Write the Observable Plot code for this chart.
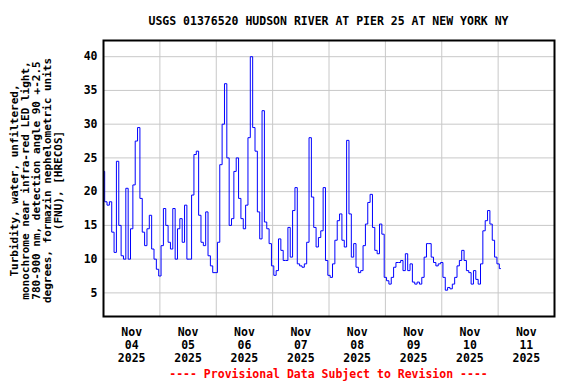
<!DOCTYPE html>
<html>
<head>
<meta charset="utf-8">
<script src="https://cdn.jsdelivr.net/npm/d3@7"></script>
<script src="https://cdn.jsdelivr.net/npm/@observablehq/plot@0.6"></script>
<style>
  body { margin: 0; background: #fff; }
  #wrap { position: relative; width: 576px; height: 384px; font-family: "DejaVu Sans Mono", monospace; font-weight: bold; color: #000; }
  #wrap svg { position: absolute; left: 0; top: 0; }
  .title { position: absolute; left: 103px; width: 451px; top: 14px; text-align: center; font-size: 11.5px; line-height: 14px; white-space: nowrap; }
  .caption { position: absolute; left: 103px; width: 451px; top: 367px; text-align: center; font-size: 11.5px; line-height: 14px; color: #ff0000; white-space: nowrap; }
</style>
</head>
<body>
<div id="wrap">
  <div class="title">USGS 01376520 HUDSON RIVER AT PIER 25 AT NEW YORK NY</div>
  <div class="caption">---- Provisional Data Subject to Revision ----</div>
</div>
<script>
// Hourly turbidity readings (FNU) starting Nov 04 2025 00:00
const startTime = "2025-11-04T00:00:00Z";
const turbidity = [
  23, 18.5, 18, 18.5, 14, 11, 24.5, 15, 10.5, 10, 20.5, 10, 14.5, 21, 27.5, 29.5, 19, 14, 12, 14.5,
  16.5, 11.5, 10, 8.5, 7.5, 12, 17.5, 15, 12.5, 11.5, 17.5, 10, 14.5, 16, 12.5, 18, 10, 10, 19.5, 25.5,
  26, 16.5, 12.5, 12, 17, 10.5, 9, 8, 8, 12.5, 24, 30, 36, 25, 15, 16, 23, 25, 19, 16,
  14.5, 18, 28, 40, 29.5, 26, 17, 13, 32, 15.5, 14.5, 12.3, 9, 7.6, 8.3, 13, 11.3, 9.8, 9.8, 14.7,
  10.3, 17.2, 20.6, 9.3, 9, 8.8, 9.3, 12.5, 28, 19.2, 14.7, 11.8, 13.2, 14.2, 20.6, 9.8, 7.6, 7.3, 9.3, 12.8,
  15.7, 16.7, 12.8, 11.8, 27.6, 16.7, 10.3, 12.3, 8.8, 8, 8.3, 12, 15.2, 18.4, 19.6, 14.7, 11.3, 10.8, 15.2, 13.7,
  7.3, 6.8, 6.3, 7.3, 8.8, 9.5, 9.5, 9.8, 8.3, 10.8, 8.3, 9.3, 6.6, 6.3, 6.6, 6.3, 7.3, 10.3, 12.3, 12.3,
  10.3, 9.5, 9, 9.3, 9.5, 7.3, 5.4, 5.8, 5.6, 6.3, 7.3, 9, 9.8, 11.3, 9.8, 8.3, 8, 6.3, 8.3, 7,
  6.3, 9.3, 14.2, 15.7, 17.2, 15.2, 12.8, 10.3, 9.3, 8.6
];
const xDomain = ["2025-11-04T00:00:00Z", "2025-11-12T00:00:00Z"];
const tickDays = ["2025-11-04", "2025-11-05", "2025-11-06", "2025-11-07", "2025-11-08", "2025-11-09", "2025-11-10", "2025-11-11"];
const yTicks = [5, 10, 15, 20, 25, 30, 35, 40];
const yDomain = [1.5, 42.4];
const yLabel = "Turbidity, water, unfiltered,\nmonochrome near infra-red LED light,\n780-900 nm, detection angle 90 +-2.5\ndegrees, formazin nephelometric units\n(FNU), [HRECOS]";

const t0 = new Date(startTime).getTime();
const data = turbidity.map((v, i) => ({ t: new Date(t0 + i * 3600e3), v }));
const domain = xDomain.map(d => new Date(d));
const gridDays = d3.utcDay.range(domain[0], new Date(domain[1].getTime() + 1));
const labelTicks = tickDays.map(d => new Date(d + "T12:00:00Z"));
const fmt = d3.utcFormat("%b\n%d\n%Y");

const chart = Plot.plot({
  width: 576,
  height: 384,
  marginLeft: 103,
  marginRight: 22,
  marginTop: 40,
  marginBottom: 68,
  style: { fontFamily: "DejaVu Sans Mono, monospace", fontWeight: "bold", fontSize: "11.5px", color: "#000", background: "transparent", overflow: "visible" },
  x: { type: "utc", domain },
  y: { domain: yDomain },
  marks: [
    Plot.gridY(yTicks, { stroke: "#c8c8c8", strokeOpacity: 1, strokeWidth: 1 }),
    Plot.gridX(gridDays, { stroke: "#c8c8c8", strokeOpacity: 1, strokeWidth: 1 }),
    Plot.line(data, { x: "t", y: "v", stroke: "#0000ff", strokeWidth: 1, curve: "step" }),
    Plot.frame({ stroke: "#000", strokeWidth: 2 }),
    Plot.axisY(yTicks, { tickSize: 0, tickPadding: 6, label: null, fill: "#000" }),
    Plot.axisX(labelTicks, { tickSize: 0, tickPadding: 10, label: null, tickFormat: fmt, lineHeight: 1.13, fill: "#000" }),
    Plot.text([yLabel], { text: d => d, frameAnchor: "left", rotate: -90, dx: -67, dy: 2, textAnchor: "middle", lineAnchor: "middle", lineHeight: 1.0, fontSize: 11, fill: "#000" })
  ]
});
document.getElementById("wrap").prepend(chart);
</script>
</body>
</html>
